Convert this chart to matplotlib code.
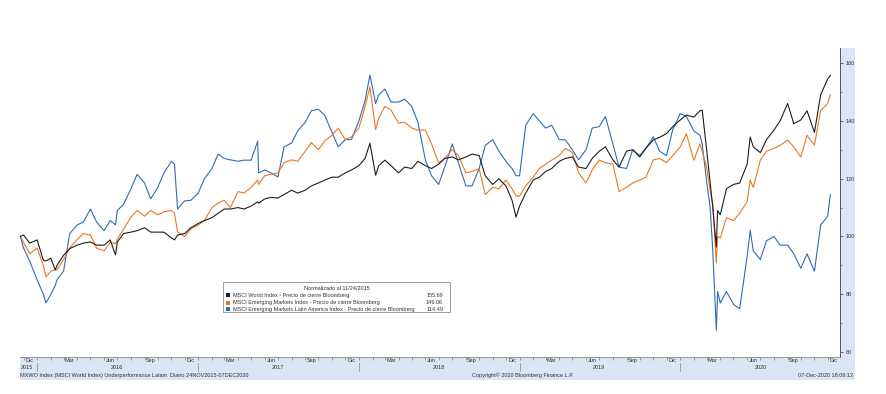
import pandas as pd
import matplotlib.pyplot as plt
import matplotlib.dates as mdates
from matplotlib.patches import Rectangle

plt.rcParams['font.family'] = ['Liberation Sans', 'DejaVu Sans']

# fechas (aprox. quincenales + algunos dias clave)
dates = [
    '2015-11-24', '2015-12-01', '2015-12-15',
    '2016-01-01', '2016-01-15', '2016-01-21', '2016-02-01', '2016-02-11', '2016-02-15',
    '2016-03-01', '2016-03-15', '2016-04-01', '2016-04-15', '2016-05-01', '2016-05-15',
    '2016-06-01', '2016-06-15', '2016-06-27', '2016-07-01', '2016-07-15', '2016-08-01',
    '2016-08-15', '2016-09-01', '2016-09-15', '2016-10-01', '2016-10-15', '2016-11-01',
    '2016-11-08', '2016-11-15', '2016-12-01', '2016-12-15',
    '2017-01-01', '2017-01-15', '2017-02-01', '2017-02-15', '2017-03-01', '2017-03-15',
    '2017-04-01', '2017-04-15', '2017-05-01', '2017-05-16', '2017-05-18', '2017-06-01',
    '2017-06-15', '2017-07-01', '2017-07-15', '2017-08-01', '2017-08-15', '2017-09-01',
    '2017-09-15', '2017-10-01', '2017-10-15', '2017-11-01', '2017-11-15', '2017-12-01',
    '2017-12-15',
    '2018-01-01', '2018-01-15', '2018-01-26', '2018-02-08', '2018-02-15', '2018-03-01',
    '2018-03-15', '2018-04-01', '2018-04-15', '2018-05-01', '2018-05-15', '2018-06-01',
    '2018-06-15', '2018-07-01', '2018-07-15', '2018-08-01', '2018-08-15', '2018-09-01',
    '2018-09-15', '2018-10-01', '2018-10-15', '2018-11-01', '2018-11-15', '2018-12-01',
    '2018-12-15', '2018-12-24',
    '2019-01-01', '2019-01-15', '2019-02-01', '2019-02-15', '2019-03-01', '2019-03-15',
    '2019-04-01', '2019-04-15', '2019-05-01', '2019-05-15', '2019-06-01', '2019-06-15',
    '2019-07-01', '2019-07-15', '2019-08-01', '2019-08-15', '2019-09-01', '2019-09-15',
    '2019-10-01', '2019-10-15', '2019-11-01', '2019-11-15', '2019-12-01', '2019-12-15',
    '2020-01-01', '2020-01-15', '2020-02-01', '2020-02-15', '2020-02-20', '2020-03-01',
    '2020-03-09', '2020-03-15', '2020-03-23', '2020-03-26', '2020-04-01', '2020-04-15',
    '2020-05-01', '2020-05-15', '2020-06-01', '2020-06-08', '2020-06-15', '2020-07-01',
    '2020-07-15', '2020-08-01', '2020-08-15', '2020-09-01', '2020-09-15', '2020-10-01',
    '2020-10-15', '2020-11-01', '2020-11-15', '2020-12-01', '2020-12-07',
]

world = [
    100, 100.5, 97.7,
    98.8, 91.8, 91.5, 92.5, 88.4, 90, 93.5, 95.8, 97, 97.7, 98.1, 97, 97, 98.8, 93.6, 98,
    101, 101.5, 102, 103, 101.5, 101.5, 101.5, 99.5, 98.8, 100.5, 101, 103,
    104.5, 105.5, 106.5, 108, 109.5, 109.5, 110, 109.5, 110.5, 112, 111.5, 113, 113.5,
    113.3, 114.5, 116, 115, 116, 117.5, 118.5, 119.5, 120.5, 120.5, 122, 123,
    124.5, 127, 132.3, 121.2, 124.5, 126.4, 124.5, 122, 124, 123.5, 126, 124.5, 123.5,
    125, 127, 127.5, 126.5, 127.5, 128.5, 128, 121, 118, 120, 117.5, 112.5, 106.7,
    110.5, 115, 119.5, 120.5, 122.5, 123.5, 126, 127, 127.5, 124, 123.5, 127, 129.5,
    131, 126.5, 124, 129.5, 130, 127.5, 130.5, 133.4, 134.3, 135.6, 138,
    140.3, 142, 141.3, 143.5, 143.7, 130, 118.5, 110, 96.3, 109, 107.5, 116.5, 118,
    118.5, 125, 134.4, 131, 129, 133.5, 136.8, 140, 146, 139, 140.3, 143.5, 136, 149,
    154.5, 155.69,
]

em = [
    100, 98, 94,
    96, 90, 86, 88, 88.5, 88.5, 92, 96, 99, 101, 100.5, 96, 95, 98, 97.5, 99, 102.5,
    106.7, 109, 107, 109, 107.5, 108.5, 109, 108, 101.5, 100, 102.5,
    104, 105.5, 110, 111.5, 112.5, 110, 115.5, 115, 117, 119.5, 118, 121, 121.5, 122,
    125.5, 126.5, 126, 129.5, 132.5, 130, 133, 135, 137.5, 133.5, 134.5,
    137.5, 145, 151.7, 137, 141, 145, 143.7, 139.2, 139.5, 137.5, 136.8, 136.8, 132,
    125.5, 127, 130, 128, 122, 122.5, 123.5, 114.5, 117, 116.5, 119.5, 116.5, 114,
    114, 117.5, 120.5, 123.5, 125, 126.4, 128, 130.5, 129, 122, 118.5, 123, 126.4,
    125.5, 125, 115.5, 117, 118.5, 119.5, 120.5, 126.5, 127, 125.5, 128,
    131, 135.5, 126.4, 132, 129.5, 124, 116, 111, 90.8, 100, 99.5, 106.5, 105.5, 108,
    112, 119.5, 117, 126.4, 129.5, 130.5, 131.5, 133.4, 131, 127.5, 135, 131.6, 143.5,
    146, 149.06,
]

latam = [
    100, 96, 91.5,
    85, 80, 77, 80, 83, 85, 88, 101, 104, 105, 109.5, 105, 102, 105.5, 104, 109, 111,
    116.5, 121.5, 118.5, 113, 117, 122, 126, 125, 109.5, 112.3, 112.5,
    115, 120, 123.5, 128.5, 127, 126.5, 126, 126.4, 126.4, 133, 122, 123, 122, 120.6,
    131, 132.3, 136.5, 139.5, 143.5, 144, 142, 136, 131, 133.5, 133.5,
    140, 147, 155.8, 146, 149, 151, 146.5, 146.5, 147.5, 145, 139.5, 126.5, 121, 118,
    124, 132, 125.5, 117.5, 117.5, 123.5, 131.5, 133.5, 129.5, 126, 123.5, 121,
    121, 138.5, 142.5, 140, 137.5, 138.5, 133.5, 133.4, 130, 126.5, 130, 137.5, 138,
    141.5, 132, 124, 123.5, 130, 128, 130.5, 134.5, 129.5, 128, 137,
    142.5, 141.5, 136.5, 135, 132, 119, 110, 95, 67.6, 81, 77, 81, 76.5, 75, 93, 102.2,
    95, 92, 98.5, 100, 97, 97, 94, 89, 94, 88, 104, 107, 114.49,
]

series_names = [
    'MSCI World Index - Precio de cierre Bloomberg',
    'MSCI Emerging Markets Index - Precio de cierre Bloomberg',
    'MSCI Emerging Markets Latin America Index - Precio de cierre Bloomberg',
]
last_values = ['155.69', '149.06', '114.49']
colors = ['#1e1e1e', '#ee7623', '#2f6db2']
legend_title = 'Normalizado al 11/24/2015'

quarter_labels = {12: 'Dic', 3: 'Mar', 6: 'Jun', 9: 'Sep'}
year_labels = ['2015', '2016', '2017', '2018', '2019', '2020']
y_ticks = [60, 80, 100, 120, 140, 160]

footer_left = 'MXWO Index (MSCI World Index) Underperformance Latam  Diario 24NOV2015-07DEC2020'
footer_mid = 'Copyright\u00a9 2020 Bloomberg Finance L.P.'
footer_right = '07-Dec-2020 18:06:12'

W, H = 886, 394
fs = 4.0
txt = '#333333'
band = '#dbe5f4'

fig = plt.figure(figsize=(W / 100, H / 100), dpi=100)


def fx(px):
    return px / W


def fy(py):
    return 1 - py / H


# fondo celeste (banda inferior y panel derecho), detras de los ejes
fig.patches.append(Rectangle((fx(20), fy(380)), (855 - 20) / W, (380 - 357) / H,
                             transform=fig.transFigure, facecolor=band, edgecolor='none', zorder=-2))
fig.patches.append(Rectangle((fx(840), fy(380)), (855 - 840) / W, (380 - 48) / H,
                             transform=fig.transFigure, facecolor=band, edgecolor='none', zorder=-2))

ax = fig.add_axes([fx(20), fy(357), 820 / W, 309 / H])
x = pd.to_datetime(dates)
for vals, c in [(latam, colors[2]), (em, colors[1]), (world, colors[0])]:
    ax.plot(x, vals, color=c, lw=0.8)

ax.set_ylim(58.3, 165.2)
ax.set_xlim(pd.Timestamp('2015-11-23'), pd.Timestamp('2020-12-29'))

for s in ['left', 'top']:
    ax.spines[s].set_visible(False)
ax.spines['right'].set_color('#555555')
ax.spines['right'].set_linewidth(0.7)
ax.spines['bottom'].set_color('#8a8a8a')
ax.spines['bottom'].set_linewidth(0.6)

ax.yaxis.tick_right()
ax.set_yticks(y_ticks)
ax.set_yticks([v + 10 for v in y_ticks[:-1]], minor=True)
ax.tick_params(axis='y', which='major', direction='out', length=2.5, width=0.6,
               labelsize=fs, pad=1.5, colors='#555555', labelcolor=txt)
ax.tick_params(axis='y', which='minor', direction='out', length=1.5, width=0.5, colors='#555555')

ax.xaxis.set_major_locator(mdates.MonthLocator())
ax.tick_params(axis='x', which='major', direction='out', length=2, width=0.5,
               colors='#777777', labelbottom=False)

xt = ax.get_xaxis_transform()
for q in pd.date_range('2015-12-01', '2020-12-01', freq='3MS'):
    ax.text(q + pd.Timedelta(days=14), -0.012, quarter_labels[q.month], transform=xt,
            ha='center', va='center', fontsize=fs, color=txt, clip_on=False)

ax.text(pd.Timestamp('2015-11-24'), -0.034, year_labels[0], transform=xt,
        ha='left', va='center', fontsize=fs, color=txt, clip_on=False)
for yl in year_labels[1:]:
    ax.text(pd.Timestamp(yl + '-07-01'), -0.034, yl, transform=xt,
            ha='center', va='center', fontsize=fs, color=txt, clip_on=False)
    jan = pd.Timestamp(yl + '-01-01')
    ax.plot([jan, jan], [-0.02, -0.044], transform=xt, color='#888888', lw=0.5, clip_on=False)

fig.text(fx(20), fy(375.5), footer_left, fontsize=fs, color=txt, va='center')
fig.text(fx(472), fy(375.5), footer_mid, fontsize=fs, color=txt, va='center')
fig.text(fx(853), fy(375.5), footer_right, fontsize=fs, color=txt, va='center', ha='right')

# leyenda
fig.patches.append(Rectangle((fx(223), fy(312)), (450 - 223) / W, (312 - 282) / H,
                             transform=fig.transFigure, facecolor='white',
                             edgecolor='#8c8c8c', lw=0.6, zorder=5))
fig.text(fx(337), fy(288.3), legend_title, fontsize=fs, color=txt, ha='center', va='center', zorder=6)
for i, (name, val, c) in enumerate(zip(series_names, last_values, colors)):
    yy = [295.3, 302.5, 309.3][i]
    fig.patches.append(Rectangle((fx(226), fy(yy + 2)), 4 / W, 4 / H, transform=fig.transFigure,
                                 facecolor=c, edgecolor='none', zorder=6))
    fig.text(fx(233), fy(yy), name, fontsize=fs, color=txt, va='center', zorder=6)
    fig.text(fx(443), fy(yy), val, fontsize=fs, color=txt, va='center', ha='right', zorder=6)

fig.savefig('out.png', dpi=100)
